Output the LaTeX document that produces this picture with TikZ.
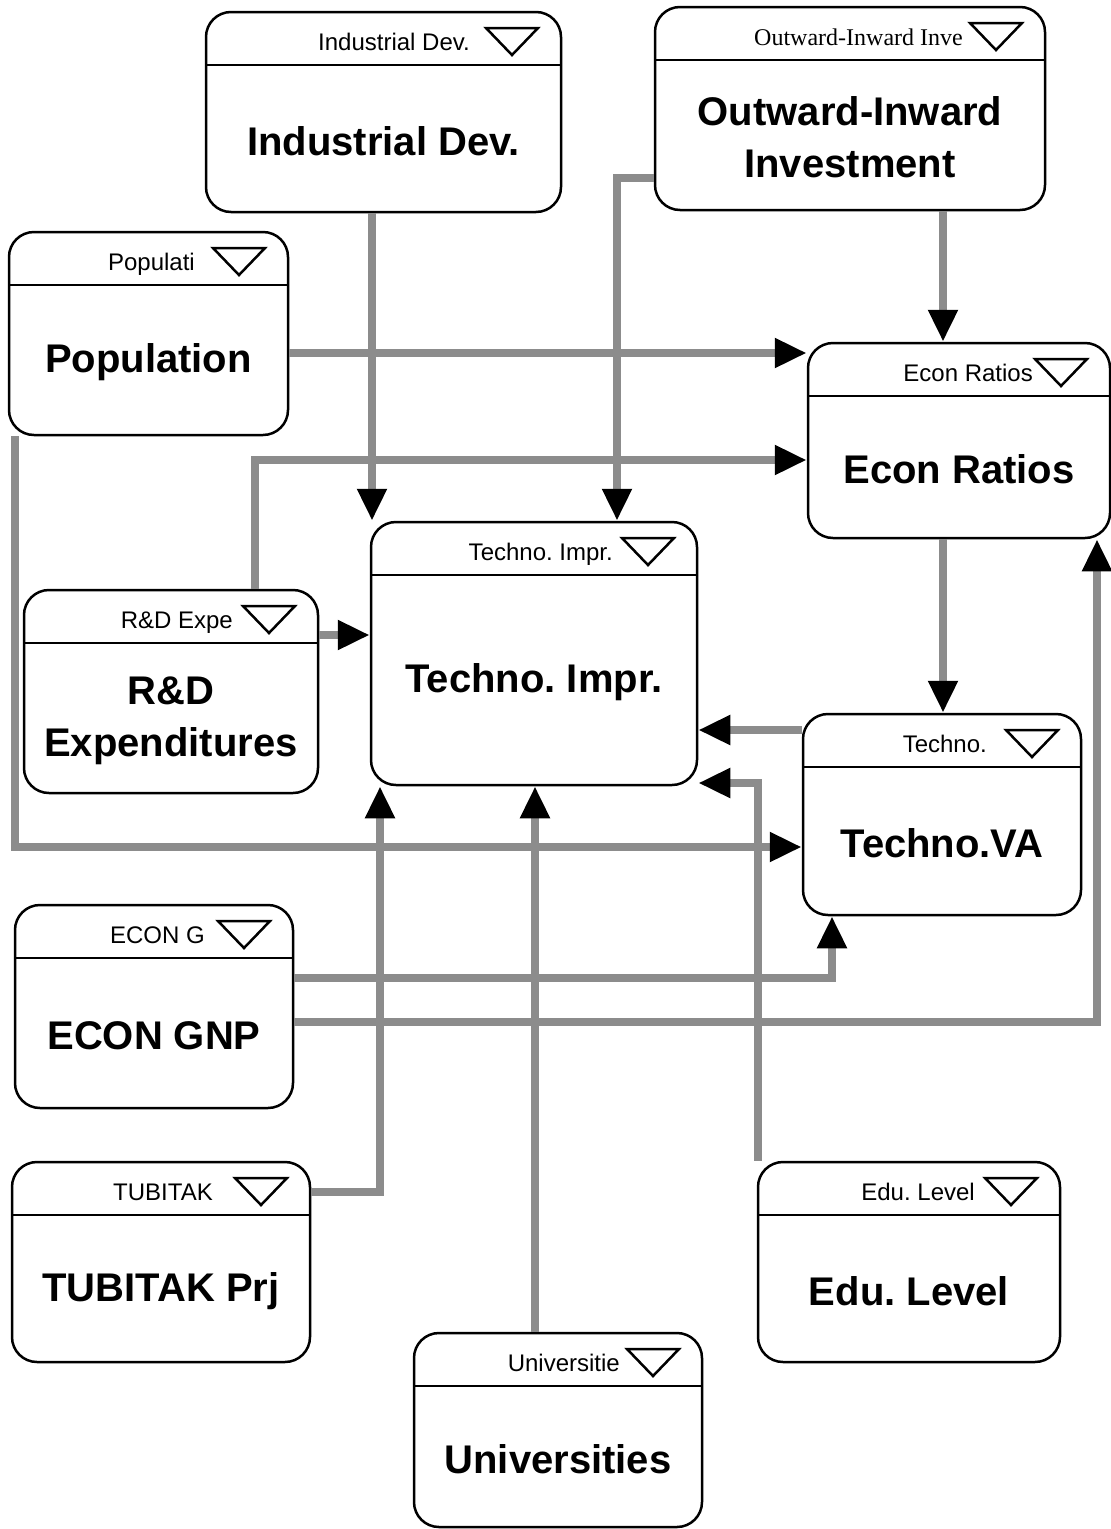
\documentclass[tikz,border=0pt]{standalone}
\usepackage{fontspec}
\setmainfont{Liberation Sans}
\newfontfamily\hdserif{Liberation Serif}
\usetikzlibrary{arrows.meta}
\frenchspacing
\definecolor{lnk}{RGB}{140,140,140}
\tikzset{
 modst/.style={draw=black, line width=2.5pt, rounded corners=25pt, inner sep=0pt, fill=white},
 divst/.style={line width=2.5pt},
 tri/.style={line width=2.5pt, line join=miter},
 hdst/.style={font=\fontsize{24}{28}\selectfont, inner sep=0pt, anchor=base east},
 mainst/.style={font=\fontsize{40}{52}\selectfont\bfseries, align=center, inner sep=0pt},
 conn/.style={draw=lnk, line width=8pt, -{Triangle[length=32pt,width=28pt,color=black]}},
}
\newcommand{\modbox}[8]{%
 \node[modst, minimum width={(#4-#2)*1pt}, minimum height={(#5-#3)*1pt}] (#1) at ({(#2+#4)/2},{(#3+#5)/2}) {};
 \draw[divst] ({#2},{#3+53}) -- ({#4},{#3+53});
 \draw[tri] ({#4-75},{#3+16}) -- ({#4-23},{#3+16}) -- ({#4-49},{#3+43}) -- cycle;
 \node[hdst] (#1h) at ({#4-75-#7},{#3+38}) {#6};
 \node[mainst] (#1m) at ({(#2+#4)/2},{(#3+53+#5)/2+2.5}) {#8};
}
\begin{document}
\begin{tikzpicture}[x=1pt,y=-1pt]
\useasboundingbox[fill=white] (0,0) rectangle (1111,1529);
\modbox{ind}{206}{12}{561}{212}{Industrial Dev.}{16}{Industrial Dev.}
\modbox{out}{655}{7}{1045}{210}{\hdserif Outward-Inward Inve}{7}{Outward-Inward\\Investment}
\modbox{pop}{9}{232}{288}{435}{Populati}{18}{Population}
\modbox{eco}{808}{343}{1110}{538}{Econ Ratios}{2}{Econ Ratios}
\modbox{tim}{371}{522}{697}{785}{Techno. Impr.}{9}{Techno. Impr.}
\modbox{rd}{24}{590}{318}{793}{R\&D Expe}{10}{R\&D\\Expenditures}
\modbox{tva}{803}{714}{1081}{915}{Techno.}{19}{Techno.VA}
\modbox{gnp}{15}{905}{293}{1108}{ECON G}{13}{ECON GNP}
\modbox{tub}{12}{1162}{310}{1362}{TUBITAK}{22}{TUBITAK Prj}
\modbox{uni}{414}{1333}{702}{1527}{Universitie}{7}{Universities}
\modbox{edu}{758}{1162}{1060}{1362}{Edu. Level}{10}{Edu. Level}
% connectors
\draw[conn] (ind.south -| 372,0) -- (tim.north -| 372,0);
\draw[conn] (out.west |- 0,178) -| (tim.north -| 617,0);
\draw[conn] (out.south -| 943,0) -- (eco.north -| 943,0);
\draw[conn] (pop.east |- 0,353) -- (eco.west |- 0,353);
\draw[conn] (rd.north -| 255,0) |- (eco.west |- 0,460);
\draw[conn] (rd.east |- 0,635) -- (tim.west |- 0,635);
\draw[conn] (pop.south -| 15,0) |- (tva.west |- 0,847);
\draw[conn] (eco.south -| 943,0) -- (tva.north -| 943,0);
\draw[conn] (tva.west |- 0,730) -- (tim.east |- 0,730);
\draw[conn] (edu.north -| 758,0) |- (tim.east |- 0,783);
\draw[conn] (gnp.east |- 0,978) -| (tva.south -| 832,0);
\draw[conn] (gnp.east |- 0,1022) -| (eco.south -| 1097,0);
\draw[conn] (tub.east |- 0,1192) -| (tim.south -| 380,0);
\draw[conn] (uni.north -| 535,0) -- (tim.south -| 535,0);
\end{tikzpicture}
\end{document}
